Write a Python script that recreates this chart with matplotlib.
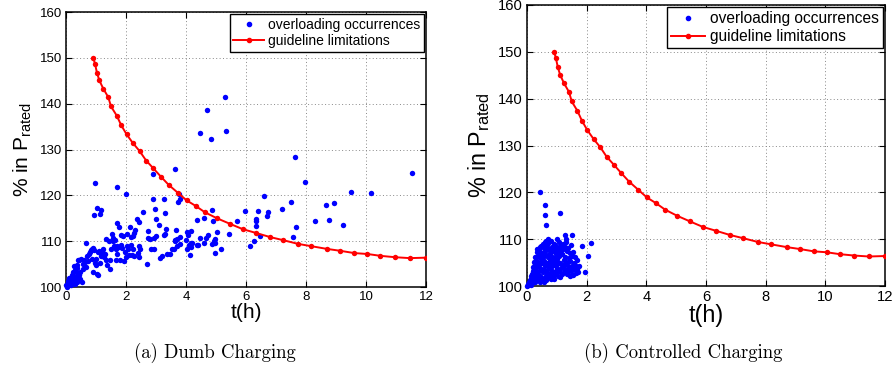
import matplotlib
matplotlib.use("Agg")
import matplotlib.pyplot as plt
from matplotlib.lines import Line2D

plt.rcParams['font.family'] = ['Liberation Sans', 'DejaVu Sans']
plt.rcParams['mathtext.fontset'] = 'custom'
plt.rcParams['mathtext.rm'] = 'Liberation Sans'

# guideline limitation curve (t in h, % of P_rated)
guide_t = [0.91, 0.97, 1.03, 1.11, 1.24, 1.41, 1.50, 1.69, 1.84, 2.02, 2.23, 2.46,
           2.67, 2.91, 3.16, 3.42, 3.72, 4.02, 4.32, 4.63, 5.03, 5.46, 5.90, 6.33,
           6.80, 7.25, 7.74, 8.18, 8.71, 9.14, 9.61, 10.05, 10.48, 10.97, 11.46, 12.0]
guide_pct = [150.0, 148.6, 146.8, 145.1, 143.3, 141.4, 139.4, 137.4, 135.3, 133.3, 131.4, 129.6,
             127.6, 125.9, 124.1, 122.3, 120.6, 118.9, 117.7, 116.3, 115.0, 113.8, 112.6, 111.8,
             110.9, 110.2, 109.4, 108.9, 108.3, 107.9, 107.4, 107.2, 106.8, 106.5, 106.3, 106.4]

# (a) dumb charging overloading occurrences
dumb_t = [5.29, 4.71, 4.46, 5.34, 4.83, 7.64, 11.55, 3.63, 2.91, 7.98, 0.97, 1.70, 2.00, 9.51,
          10.18, 6.59, 3.78, 3.81, 3.73, 2.91, 3.27, 7.51, 8.66, 8.93, 1.02, 1.18, 1.14, 0.93,
          2.57, 2.95, 3.30, 3.01, 2.38, 2.43, 1.71, 1.78, 2.14, 2.30, 2.26, 2.22, 2.72, 3.10,
          4.38, 4.60, 4.88, 4.91, 5.04, 5.42, 5.70, 5.98, 6.39, 6.73, 6.69, 6.33, 6.32, 6.35,
          7.19, 7.67, 7.56, 6.47, 6.26, 6.14, 8.29, 8.78, 9.23, 4.16, 4.04, 4.08, 4.74, 4.68,
          4.47, 4.16, 4.21, 3.99, 4.96, 4.93, 4.96, 4.88, 4.59, 4.39, 4.37, 4.11, 4.16, 4.02,
          5.17, 4.96, 4.12, 3.32, 3.31, 3.28, 3.66, 1.84, 1.91, 2.03, 2.17, 2.74, 2.81, 2.93,
          3.00, 3.62, 3.71, 3.62, 3.81, 1.52, 1.58, 1.64, 1.56, 1.32, 1.42, 0.66, 0.91, 0.88,
          0.94, 0.82, 0.79, 0.76, 0.71, 1.06, 1.11, 1.18, 1.24, 1.30, 1.23, 1.16, 1.28, 1.32,
          1.47, 1.71, 1.77, 1.84, 1.86, 1.67, 1.60, 1.50, 1.70, 2.02, 2.17, 2.22, 2.06, 1.98,
          2.09, 2.19, 2.00, 1.79, 1.67, 1.94, 1.48, 2.39, 2.42, 2.28, 2.47, 2.42, 2.71, 2.84,
          2.94, 3.13, 3.21, 3.38, 3.47, 3.53, 3.60, 3.69, 3.79, 1.00, 0.96, 1.04, 1.08, 0.89,
          0.66, 0.56, 0.44, 0.49, 0.41, 0.38, 0.31, 0.24, 0.36, 0.20, 0.29, 0.43, 0.47, 0.52,
          0.38, 0.24, 0.13, 0.07, 0.02, 0.16, 0.30, 0.19, 0.11, 0.41, 0.33, 0.22, 0.08, 0.01,
          0.47, 0.55, 0.60, 0.27, 0.05, 0.12, 0.35, 0.62, 0.85, 0.73, 1.36, 1.12, 0.99]
dumb_pct = [141.4, 138.7, 133.6, 134.1, 132.2, 128.3, 124.9, 125.7, 124.6, 123.0, 122.8, 121.8, 120.3, 120.7,
            120.6, 119.9, 120.4, 119.1, 118.6, 119.1, 119.1, 118.6, 118.0, 118.4, 117.2, 116.7, 116.0, 115.7,
            116.3, 117.1, 116.1, 114.9, 114.8, 114.1, 113.9, 113.1, 113.0, 112.4, 111.7, 111.1, 112.2, 113.5,
            114.7, 115.0, 116.9, 114.4, 112.0, 111.6, 114.3, 116.6, 116.6, 116.4, 115.6, 114.9, 114.4, 113.3,
            117.0, 113.1, 110.9, 111.1, 110.1, 108.9, 114.4, 114.6, 113.6, 112.2, 112.0, 111.3, 111.4, 110.7,
            110.8, 109.5, 109.5, 110.2, 110.4, 110.0, 109.6, 109.3, 109.6, 109.1, 109.2, 109.1, 108.8, 108.4,
            108.4, 107.4, 106.9, 112.6, 111.5, 111.3, 112.5, 111.4, 111.2, 111.5, 111.0, 110.8, 110.4, 110.7,
            111.2, 110.3, 110.4, 110.0, 110.9, 111.6, 110.6, 110.3, 110.0, 110.5, 110.0, 109.7, 108.6, 108.3,
            108.1, 108.0, 107.6, 107.2, 106.8, 107.7, 107.8, 107.2, 107.4, 107.1, 108.3, 106.7, 106.5, 106.0,
            105.9, 108.9, 108.7, 109.1, 108.6, 108.4, 109.0, 108.4, 107.1, 108.9, 109.2, 108.4, 108.2, 107.7,
            106.9, 107.0, 106.5, 105.8, 105.9, 105.7, 103.9, 107.5, 106.5, 106.7, 108.4, 108.9, 105.1, 108.2,
            108.4, 106.4, 106.7, 107.2, 107.2, 108.3, 108.4, 109.0, 109.3, 104.8, 105.2, 102.8, 102.6, 103.2,
            104.3, 105.1, 105.9, 106.2, 106.0, 104.1, 103.7, 103.3, 103.0, 102.6, 102.2, 102.6, 101.7, 101.0,
            101.2, 101.5, 101.0, 100.6, 100.1, 100.4, 100.7, 101.9, 102.0, 102.0, 101.5, 101.0, 101.3, 100.4,
            103.3, 104.0, 106.0, 104.6, 100.9, 101.6, 104.8, 105.4, 106.2, 105.7, 104.9, 105.3, 106.1]

# (b) controlled charging overloading occurrences
ctrl_t = [0.43, 0.59, 0.62, 0.64, 1.11, 0.99, 1.29, 1.32, 1.52, 1.84, 2.13, 2.06, 1.96, 0.64, 0.71,
          0.01, 0.03, 0.05, 0.06, 0.08, 0.09, 0.11, 0.12, 0.13, 0.14, 0.15,
          0.16, 0.17, 0.18, 0.19, 0.20, 0.21, 0.22, 0.23, 0.24, 0.25, 0.26, 0.27, 0.28, 0.29, 0.30,
          0.31, 0.32, 0.33, 0.34, 0.35, 0.36, 0.37, 0.38, 0.39, 0.40, 0.41, 0.42, 0.43, 0.44, 0.45,
          0.46, 0.47, 0.48, 0.49, 0.50, 0.51, 0.52, 0.53, 0.54, 0.55, 0.56, 0.57, 0.58, 0.59, 0.60,
          0.61, 0.62, 0.63, 0.64, 0.65, 0.66, 0.67, 0.68, 0.69, 0.70, 0.71, 0.72, 0.73, 0.74, 0.75,
          0.76, 0.77, 0.78, 0.79, 0.80, 0.81, 0.82, 0.83, 0.84, 0.85, 0.86, 0.87, 0.88, 0.89, 0.90,
          0.91, 0.92, 0.93, 0.94, 0.95, 0.96, 0.97, 0.98, 1.00, 1.01, 1.02, 1.03, 1.04, 1.05,
          1.06, 1.07, 1.08, 1.10, 1.11, 1.12, 1.14, 1.15, 1.16, 1.18, 1.19, 1.20, 1.22, 1.23, 1.24,
          1.26, 1.27, 1.28, 1.30, 1.31, 1.33, 1.34, 1.36, 1.37, 1.38, 1.40, 1.41, 1.43, 1.44, 1.45,
          1.47, 1.48, 1.50, 1.52, 1.53, 1.55, 1.57, 1.59, 1.60, 1.62, 1.64, 1.66, 1.68, 1.71, 1.74]
ctrl_pct = [120.1, 117.4, 115.1, 113.1, 115.6, 110.1, 110.9, 110.1, 110.8, 108.6, 109.1, 106.3, 103.0, 109.7, 110.0,
            100.1, 100.4, 100.2, 100.8, 100.5, 101.2, 100.9, 101.6, 100.3, 102.1, 101.3,
            102.6, 100.7, 101.8, 103.1, 102.3, 104.0, 101.1, 103.6, 105.2, 102.8, 104.6, 100.9, 106.1, 103.3, 101.9,
            105.5, 107.2, 104.1, 102.5, 108.0, 106.4, 103.0, 101.4, 105.0, 107.6, 104.4, 108.3, 102.2, 106.8, 100.8,
            103.7, 105.8, 108.5, 101.6, 107.0, 104.9, 102.9, 109.0, 106.2, 103.4, 100.9, 108.1, 105.3, 102.0, 107.4,
            104.2, 109.3, 101.3, 106.6, 103.1, 108.7, 105.0, 102.5, 107.8, 104.6, 106.1, 109.1, 101.9, 103.8, 108.0,
            105.6, 102.7, 107.1, 104.0, 109.6, 101.5, 106.5, 103.3, 108.4, 105.1, 102.2, 107.5, 104.5, 109.0, 106.0,
            103.0, 101.6, 107.9, 105.3, 108.8, 102.8, 104.2, 106.9, 103.6, 108.2, 105.7, 102.1, 107.3, 104.9,
            109.4, 103.2, 106.4, 101.9, 108.6, 105.0, 107.6, 103.9, 102.5, 106.8, 109.0, 104.4, 107.9, 102.9, 105.6,
            108.3, 103.6, 106.2, 104.8, 109.4, 102.6, 107.4, 105.2, 103.3, 108.1, 106.0, 104.1, 102.2, 107.0, 105.4,
            103.1, 108.7, 106.4, 104.3, 102.4, 107.3, 105.0, 103.6, 106.2, 104.5, 102.8, 105.5, 103.7, 102.9, 104.3]

x_ticks = [0, 2, 4, 6, 8, 10, 12]
y_ticks = [100, 110, 120, 130, 140, 150, 160]
legend_labels = ['overloading occurrences', 'guideline limitations']
captions = ['(a) Dumb Charging', '(b) Controlled Charging']

BLUE = '#0000FF'
RED = '#FF0000'

fig = plt.figure(figsize=(8.93, 3.73), dpi=100)
ax1 = fig.add_axes([66/893, (373-287)/373, 360/893, 275/373])
ax2 = fig.add_axes([527/893, (373-286)/373, 358/893, 281/373])


def style(ax, scale):
    ax.set_xlim(0, 12)
    ax.set_ylim(100, 160)
    ax.set_xticks(x_ticks)
    ax.set_yticks(y_ticks)
    ax.tick_params(direction='in', top=True, right=True, length=4, width=0.8,
                   labelsize=9.5 * scale, pad=3)
    ax.grid(True, linestyle=(0, (1, 2.5)), color='#888888', linewidth=0.7)
    ax.set_axisbelow(True)
    for s in ax.spines.values():
        s.set_linewidth(1.1)
    ax.set_xlabel('t(h)', fontsize=15 * scale, labelpad=0)
    ax.set_ylabel(r'% in P$_{\mathregular{rated}}$', fontsize=15 * scale, labelpad=4)
    handles = [Line2D([], [], linestyle='none', marker='.', color=BLUE, markersize=6),
               Line2D([], [], color=RED, marker='.', markersize=6, linewidth=1.4)]
    leg = ax.legend(handles, legend_labels, loc='upper right', fontsize=10 * scale,
                    borderaxespad=0.15, fancybox=False, framealpha=1, edgecolor='black',
                    handlelength=2.2, handletextpad=0.3, borderpad=0.25, labelspacing=0.2)
    leg.get_frame().set_linewidth(1.0)


for ax, (tt, pp), sc in [(ax1, (dumb_t, dumb_pct), 1.0), (ax2, (ctrl_t, ctrl_pct), 1.12)]:
    ax.plot(tt, pp, linestyle='none', marker='o', markersize=3.9, color=BLUE,
            markeredgewidth=0, clip_on=False, zorder=3)
    ax.plot(guide_t, guide_pct, color=RED, linewidth=1.4, marker='o', markersize=3.9,
            markeredgewidth=0, zorder=4)
    style(ax, sc)

fig.text(215/893, 1 - 353/373, captions[0], family='cmr10', fontsize=13.5,
         ha='center', va='center')
fig.text(683/893, 1 - 353/373, captions[1], family='cmr10', fontsize=13.5,
         ha='center', va='center')

fig.savefig('out.png', dpi=100)
